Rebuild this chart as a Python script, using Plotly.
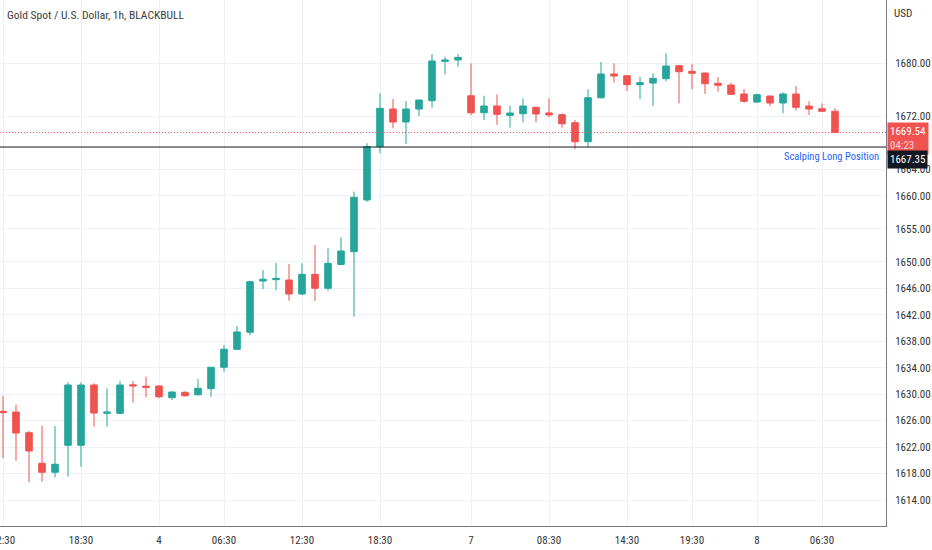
import plotly.graph_objects as go

# XAUUSD 1h bars, plotted on a bar index so weekend / daily breaks leave no gaps
bar_idx = list(range(65))
opens = [1627.40, 1627.30, 1624.17, 1619.55, 1618.19, 1622.27, 1622.27, 1631.38, 1627.10, 1627.10,
         1631.40, 1631.20, 1631.23, 1629.46, 1630.28, 1629.91, 1630.82, 1634.06, 1636.78, 1639.35,
         1647.10, 1647.30, 1647.25, 1645.13, 1648.11, 1646.00, 1649.60, 1651.53, 1659.34, 1667.40,
         1673.09, 1671.13, 1673.09, 1674.35, 1680.30, 1680.50, 1675.10, 1672.53, 1673.55, 1672.14,
         1672.38, 1673.35, 1672.50, 1672.23, 1671.02, 1668.15, 1674.80, 1678.38, 1678.13, 1676.77,
         1677.02, 1677.67, 1679.64, 1678.79, 1678.53, 1676.98, 1676.72, 1675.36, 1674.15, 1675.06,
         1674.00, 1675.36, 1673.55, 1673.14, 1672.75]
highs = [1629.72, 1628.40, 1624.43, 1625.18, 1625.18, 1631.79, 1631.79, 1631.64, 1630.88, 1631.99,
         1631.99, 1632.64, 1631.35, 1630.45, 1630.40, 1632.29, 1634.10, 1637.43, 1640.30, 1647.14,
         1648.76, 1649.86, 1649.67, 1649.77, 1652.54, 1652.04, 1653.70, 1660.60, 1667.91, 1675.47,
         1674.60, 1674.30, 1674.50, 1681.41, 1681.00, 1681.41, 1680.00, 1675.10, 1675.31, 1673.59,
         1674.71, 1673.45, 1674.71, 1672.45, 1671.43, 1676.07, 1680.20, 1680.00, 1678.20, 1677.97,
         1678.49, 1681.51, 1679.70, 1679.89, 1678.60, 1677.93, 1677.07, 1676.12, 1675.40, 1675.10,
         1675.62, 1676.57, 1674.26, 1673.95, 1673.20]
lows = [1620.31, 1619.94, 1616.68, 1616.77, 1617.43, 1617.52, 1619.03, 1625.08, 1625.08, 1626.95,
        1628.71, 1629.52, 1629.37, 1629.11, 1629.60, 1629.76, 1629.61, 1633.39, 1636.70, 1638.89,
        1645.89, 1645.74, 1644.12, 1645.00, 1644.08, 1645.63, 1649.55, 1641.70, 1659.08, 1666.40,
        1670.18, 1667.80, 1672.04, 1673.29, 1678.34, 1679.49, 1672.19, 1671.43, 1670.68, 1670.27,
        1671.08, 1671.08, 1671.84, 1670.27, 1667.05, 1667.40, 1674.70, 1677.07, 1675.81, 1674.60,
        1673.55, 1677.28, 1673.95, 1676.07, 1675.36, 1675.71, 1675.21, 1674.05, 1674.00, 1673.55,
        1672.44, 1672.84, 1672.19, 1672.70, 1669.54]
closes = [1627.20, 1624.13, 1621.41, 1618.19, 1619.40, 1631.38, 1631.38, 1627.15, 1627.30, 1631.38,
          1631.25, 1631.00, 1629.61, 1630.32, 1629.76, 1630.88, 1634.06, 1636.78, 1639.39, 1646.99,
          1647.36, 1647.50, 1645.13, 1648.11, 1646.00, 1649.77, 1651.63, 1659.75, 1667.40, 1673.20,
          1671.13, 1673.09, 1674.45, 1680.35, 1680.50, 1680.90, 1672.53, 1673.55, 1672.29, 1672.49,
          1673.55, 1672.34, 1672.20, 1670.87, 1668.15, 1674.80, 1678.38, 1678.08, 1676.77, 1677.07,
          1677.73, 1679.59, 1678.73, 1678.49, 1676.92, 1676.68, 1675.32, 1674.26, 1675.25, 1674.00,
          1675.36, 1673.35, 1673.09, 1672.75, 1669.54]

time_tick_pos = [0, 6, 12, 17, 23, 29, 36, 42, 48, 53, 58, 63]
time_tick_text = ["12:30", "18:30", "4", "06:30", "12:30", "18:30", "7", "08:30", "14:30", "19:30", "8", "06:30"]
price_ticks = [1614, 1618, 1622, 1626, 1630, 1634, 1638, 1642, 1646, 1650, 1655, 1660, 1664, 1672, 1680]

last_price = 1669.54
countdown = "04:23"
position_level = 1667.35
position_label = "Scalping Long Position"
title = "Gold Spot / U.S. Dollar, 1h, BLACKBULL"

UP = "#26a69a"
DOWN = "#ef5350"
GRID = "#eef1f6"
FONT = "Roboto Condensed, Fira Sans Condensed, sans-serif"

fig = go.Figure(go.Candlestick(
    x=bar_idx, open=opens, high=highs, low=lows, close=closes,
    increasing=dict(line=dict(color=UP, width=1), fillcolor=UP),
    decreasing=dict(line=dict(color=DOWN, width=1), fillcolor=DOWN),
    whiskerwidth=0, hoverinfo="skip",
))

# last price (dotted) and the position level (solid)
fig.add_hline(y=last_price, line=dict(color=DOWN, width=1, dash="1px,2px"))
fig.add_hline(y=position_level, line=dict(color="#131722", width=1))

fig.add_annotation(xref="paper", yref="y", x=1, y=last_price, xanchor="left", yanchor="middle",
                   xshift=1, yshift=-6,
                   text=f"{last_price:.2f}<br><span style='color:rgba(255,255,255,0.75)'>{countdown}</span>",
                   align="left", showarrow=False, bgcolor=DOWN, borderpad=2,
                   font=dict(family=FONT, size=11, color="white"))
fig.add_annotation(xref="paper", yref="y", x=1, y=position_level, xanchor="left", yanchor="middle",
                   xshift=1, yshift=-12, text=f"{position_level:.2f}", showarrow=False,
                   bgcolor="#131722", borderpad=2, font=dict(family=FONT, size=11, color="white"))
fig.add_annotation(xref="paper", yref="y", x=1, y=position_level, xanchor="right", yanchor="top",
                   xshift=-5, yshift=-1, text=position_label, showarrow=False,
                   font=dict(family=FONT, size=10.5, color="#2962ff"))
fig.add_annotation(xref="paper", yref="paper", x=1, y=1, xanchor="left", yanchor="top",
                   xshift=6, yshift=-5, text="USD", showarrow=False,
                   font=dict(family=FONT, size=11, color="#333333"))
fig.add_annotation(xref="paper", yref="paper", x=0, y=1, xanchor="left", yanchor="top",
                   xshift=5, yshift=-6, text=title, showarrow=False,
                   font=dict(family=FONT, size=11.5, color="#3c3c3c"))

fig.update_layout(
    width=932, height=550,
    margin=dict(l=0, r=46, t=0, b=24),
    paper_bgcolor="white", plot_bgcolor="white",
    showlegend=False, boxgap=0.28,
    font=dict(family=FONT, size=11, color="#333333"),
    xaxis=dict(range=[-3 / 13, 883 / 13], tickvals=time_tick_pos, ticktext=time_tick_text,
               rangeslider=dict(visible=False), showgrid=True, gridcolor=GRID, gridwidth=1,
               zeroline=False, showline=True, linecolor="#787b86", linewidth=1,
               ticks="", ticklabelstandoff=4, ticklabeloverflow="allow", automargin=False),
    yaxis=dict(side="right", range=[1610.07, 1689.57], tickvals=price_ticks,
               ticktext=[f"{v:.2f}" for v in price_ticks], showgrid=True, gridcolor=GRID,
               gridwidth=1, zeroline=False, showline=True, linecolor="#787b86", linewidth=1,
               ticks="", ticklabelstandoff=6, automargin=False),
)

fig.write_html("out.html", config={"displayModeBar": False},
               post_script="document.body.style.margin='0';")
